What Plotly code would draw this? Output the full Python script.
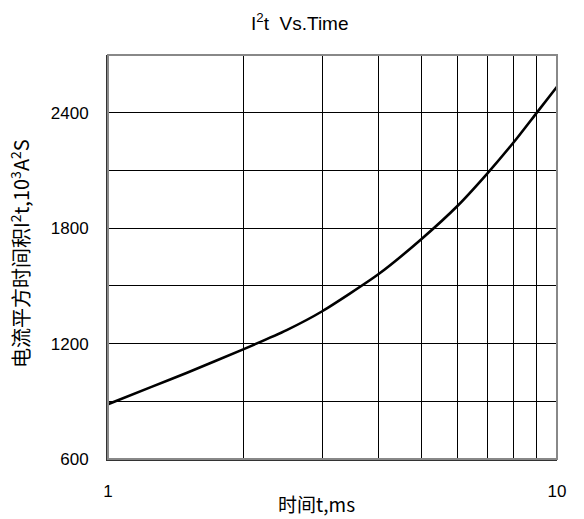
import plotly.graph_objects as go

# I²t curve: time (ms) vs. current-squared-time integral (10³ A²s)
time_ms = [1, 1.25, 1.5, 2, 2.5, 3, 4, 5, 6, 7, 8, 9, 10]
i2t_values = [885, 975, 1048, 1170, 1270, 1368, 1560, 1745, 1915, 2085, 2245, 2398, 2535]

x_tickvals = [1, 10]
x_minor_vals = [2, 3, 4, 5, 6, 7, 8, 9]
y_tickvals = [600, 1200, 1800, 2400]
y_minor_vals = [900, 1500, 2100]

FONT = "Liberation Sans"
CJK = "Noto Sans CJK SC"

fig = go.Figure()
fig.add_trace(go.Scatter(
    x=time_ms, y=i2t_values, mode="lines",
    line=dict(color="black", width=2.6, shape="spline", smoothing=0.6),
    hoverinfo="skip", showlegend=False,
))

grid_minor = dict(showgrid=True, gridcolor="black", gridwidth=1, ticks="")

fig.update_layout(
    width=584, height=519,
    margin=dict(l=108, r=27, t=55, b=60),
    paper_bgcolor="white", plot_bgcolor="white",
    font=dict(family=FONT, size=17, color="black"),
    xaxis=dict(
        type="log", range=[0, 1],
        tickvals=x_tickvals, ticktext=[str(v) for v in x_tickvals],
        tickfont=dict(family=FONT, size=17),
        showgrid=True, gridcolor="black", gridwidth=1,
        minor=dict(tickvals=x_minor_vals, **grid_minor),
        showline=True, linecolor="#333333", linewidth=2,
        ticks="outside", ticklen=16, tickcolor="rgba(0,0,0,0)",
        zeroline=False,
    ),
    yaxis=dict(
        range=[600, 2700],
        tickvals=y_tickvals, ticktext=[str(v) for v in y_tickvals],
        tickfont=dict(family=FONT, size=17),
        showgrid=True, gridcolor="black", gridwidth=1,
        minor=dict(tickvals=y_minor_vals, **grid_minor),
        showline=True, linecolor="#333333", linewidth=2,
        ticks="outside", ticklen=14, tickcolor="rgba(0,0,0,0)",
        zeroline=False,
    ),
    shapes=[dict(
        type="rect", xref="paper", yref="paper", x0=0, x1=1, y0=0, y1=1,
        line=dict(color="#888888", width=2), layer="above",
    )],
    annotations=[
        dict(text="I<sup>2</sup>t  Vs.Time", xref="paper", yref="paper",
             x=(300 - 108) / 449, y=1, yshift=33, showarrow=False,
             xanchor="center", yanchor="middle",
             font=dict(family=FONT, size=19)),
        dict(text="时间t,ms", xref="paper", yref="paper",
             x=(316 - 108) / 449, y=0, yshift=-44, showarrow=False,
             xanchor="center", yanchor="middle",
             font=dict(family=CJK, size=19)),
        dict(text="电流平方时间积I<sup>2</sup>t,10<sup>3</sup>A<sup>2</sup>S",
             xref="paper", yref="paper", x=0, xshift=-88, y=0.5, yshift=3,
             textangle=-90, showarrow=False,
             xanchor="center", yanchor="middle",
             font=dict(family=CJK, size=20)),
    ],
)

fig.write_html("out.html")
